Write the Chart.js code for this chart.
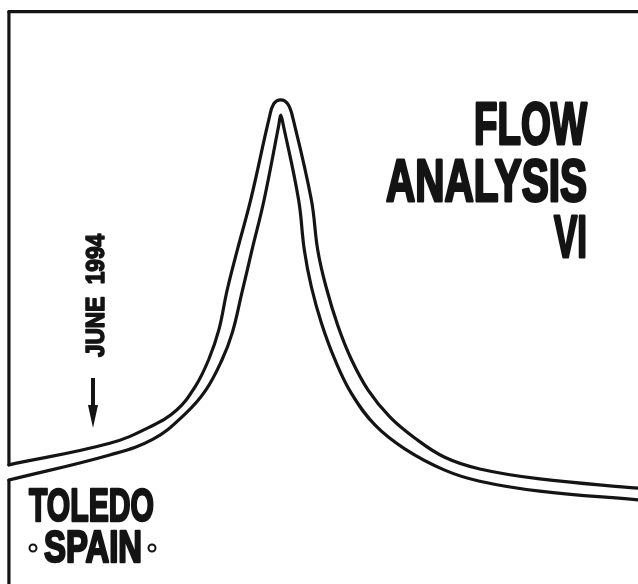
<!DOCTYPE html>
<html lang="en">
  <head>
    <meta charset="UTF-8" />
    <title>Flow Analysis VI</title>
    <script src="https://cdn.jsdelivr.net/npm/chart.js"></script>
    <style>
      html, body { margin: 0; padding: 0; background: #fff; }
      .box { width: 638px; height: 584px; position: relative; }
    </style>
  </head>
  <body>
    <div class="box"><canvas id="flowChart"></canvas></div>

    <script>
      "use strict";
      // outer contour of the peak (upper / outside line)
      const outerX = [1.4, 17.2, 23.5, 27.7, 30.6, 32.7, 34.3, 35.6, 37.2, 39.3, 42.2, 42.9, 44.0, 45.1, 45.9, 48.8, 49.8, 51.1, 53.0, 55.1, 57.7, 61.1, 65.0, 69.7, 75.2, 84.6, 100];
      const outerY = [20.4, 24.1, 26.9, 29.8, 33.8, 38.4, 43.5, 50.3, 57.2, 65.8, 79.8, 82.2, 82.9, 82.2, 79.8, 65.8, 57.2, 50.9, 44.1, 38.4, 33.2, 28.6, 25.0, 21.7, 19.7, 18.0, 16.4];
      // inner contour (lower / inside line)
      const innerX = [1.4, 17.2, 24.0, 29.0, 32.2, 34.8, 36.4, 37.9, 39.5, 41.4, 43.7, 44.0, 44.4, 46.8, 47.7, 48.8, 50.4, 52.5, 55.1, 58.8, 63.5, 69.7, 75.2, 84.6, 100];
      const innerY = [17.8, 22.1, 24.8, 29.1, 33.1, 38.4, 43.0, 49.8, 57.2, 65.8, 78.6, 80.3, 78.6, 65.8, 57.2, 50.9, 44.6, 38.4, 32.6, 27.2, 23.1, 19.5, 17.6, 15.9, 14.4];
      // frame pieces
      const frameTopX = [1.4, 100];
      const frameTopY = [98.0, 98.0];
      const frameLeftX = [1.4, 1.4];
      const frameLeftUpperY = [98.0, 20.4];
      const frameLeftLowerY = [17.8, 0];

      const titleLines = ["FLOW", "ANALYSIS", "VI"];
      const dateLabel = "JUNE  1994";
      const placeLines = ["TOLEDO", "SPAIN"];

      const pts = (xs, ys) => xs.map((x, i) => ({ x: x, y: ys[i] }));

      const ink = "#141414";
      const lineSet = (label, data, tension) => ({
        label: label,
        data: data,
        borderColor: ink,
        borderWidth: 3.2,
        pointRadius: 0,
        fill: false,
        tension: tension,
        clip: false,
      });

      const textPlugin = {
        id: "texts",
        afterDraw(chart) {
          const ctx = chart.ctx;
          ctx.save();
          ctx.fillStyle = ink;
          ctx.strokeStyle = ink;
          ctx.lineJoin = "round";
          const font = (s) => "bold " + s + "px 'Liberation Sans Narrow', 'Liberation Sans', Arial, sans-serif";

          // big title, right aligned
          ctx.font = font(60);
          ctx.textAlign = "right";
          ctx.textBaseline = "alphabetic";
          ctx.lineWidth = 3;
          const widths = [113, 201, 33];
          const bases = [144, 201, 257];
          titleLines.forEach((t, i) => {
            ctx.fillText(t, 587, bases[i], widths[i]);
            ctx.strokeText(t, 587, bases[i], widths[i]);
          });

          // rotated date
          ctx.save();
          ctx.translate(104, 357);
          ctx.rotate(-Math.PI / 2);
          ctx.textAlign = "left";
          ctx.font = font(25);
          ctx.lineWidth = 1.6;
          ctx.fillText(dateLabel, 0, 0, 123);
          ctx.strokeText(dateLabel, 0, 0, 123);
          ctx.restore();

          // arrow
          ctx.lineWidth = 4;
          ctx.beginPath();
          ctx.moveTo(93, 378);
          ctx.lineTo(93, 410);
          ctx.stroke();
          ctx.beginPath();
          ctx.moveTo(88, 405);
          ctx.lineTo(98, 405);
          ctx.lineTo(93, 428);
          ctx.closePath();
          ctx.fill();

          // place
          ctx.textAlign = "left";
          ctx.font = font(47);
          ctx.lineWidth = 2.5;
          ctx.fillText(placeLines[0], 29, 521, 125);
          ctx.strokeText(placeLines[0], 29, 521, 125);
          ctx.font = font(44);
          ctx.fillText(placeLines[1], 44, 562, 98);
          ctx.strokeText(placeLines[1], 44, 562, 98);
          ctx.lineWidth = 2;
          [33, 152].forEach((cx) => {
            ctx.beginPath();
            ctx.arc(cx, 548, 3.5, 0, Math.PI * 2);
            ctx.stroke();
          });
          ctx.restore();
        },
      };

      new Chart(document.getElementById("flowChart"), {
        type: "line",
        data: {
          datasets: [
            lineSet("outer", pts(outerX, outerY), 0.4),
            lineSet("inner", pts(innerX, innerY), 0.4),
            lineSet("frameTop", pts(frameTopX, frameTopY), 0),
            lineSet("frameLeftUpper", pts(frameLeftX, frameLeftUpperY), 0),
            lineSet("frameLeftLower", pts(frameLeftX, frameLeftLowerY), 0),
          ],
        },
        options: {
          responsive: true,
          maintainAspectRatio: false,
          animation: false,
          layout: { padding: 0 },
          scales: {
            x: { type: "linear", min: 0, max: 100, display: false },
            y: { type: "linear", min: 0, max: 100, display: false },
          },
          plugins: {
            legend: { display: false },
            tooltip: { enabled: false },
          },
          elements: { line: { borderCapStyle: "round", borderJoinStyle: "round" } },
        },
        plugins: [textPlugin],
      });
    </script>
  </body>
</html>
